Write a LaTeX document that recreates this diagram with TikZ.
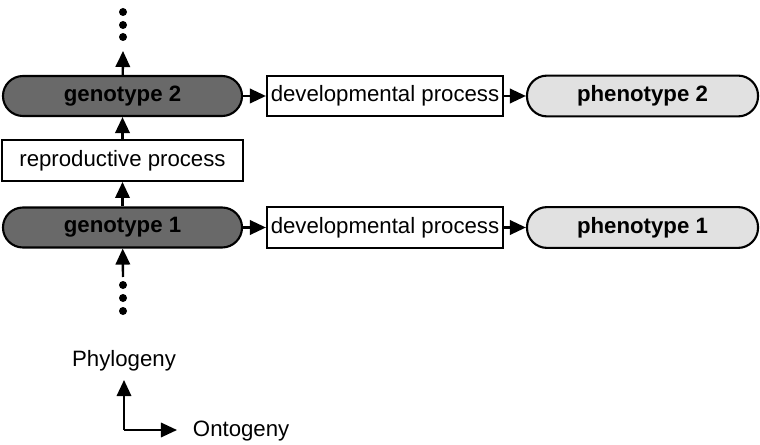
\documentclass[tikz,border=0pt]{standalone}
\usepackage{fontspec}
\setmainfont{Liberation Sans}
\usepackage{xcolor}
\usepackage{tikz}
\usetikzlibrary{positioning,calc,arrows.meta}
\definecolor{GenoGray}{RGB}{105,105,105}
\definecolor{PhenoGray}{RGB}{225,225,225}

\begin{document}
\begin{tikzpicture}[
		x=0.025cm, y=-0.025cm,
		every node/.style={font=\fontsize{15.8}{18}\selectfont},
		procbox/.style={draw, line width=1.5pt, minimum height=1.02cm, inner sep=0pt, align=center},
		genopill/.style={draw, line width=1.5pt, fill=GenoGray, rounded corners=0.5cm, minimum width=5.975cm, minimum height=1cm, inner sep=0pt, font=\fontsize{15.8}{18}\selectfont\bfseries},
		phenopill/.style={draw, line width=1.5pt, fill=PhenoGray, rounded corners=0.5cm, minimum width=5.775cm, minimum height=1.02cm, inner sep=0pt, font=\fontsize{15.8}{18}\selectfont\bfseries},
		conn/.style={line width=1.7pt, -{Triangle[length=0.4cm, width=0.36cm]}},
		dotnode/.style={circle, fill=black, inner sep=0pt, minimum size=0.2cm}
		]
		\useasboundingbox (0,0) rectangle (760,445);
		
		% ===== two generations: genotype -> developmental process -> phenotype =====
		\foreach \g/\y in {1/227.5, 2/96}{
			\node[genopill] (geno\g) at (122.5,\y) {genotype \g};
			\node[procbox, minimum width=5.9cm] (dev\g) at (385,\y) {developmental process};
			\node[phenopill] (pheno\g) at (642.5,\y) {phenotype \g};
			\draw[conn] (geno\g) -- (dev\g);
			\draw[conn] (dev\g) -- (pheno\g);
		}
		
		% ===== reproduction between the generations =====
		\node[procbox, minimum width=6.025cm] (repro) at (122.5,160.5) {reproductive process};
		\draw[conn] (geno1) -- (repro);
		\draw[conn] (repro) -- (geno2);
		
		% ===== dots above and below =====
		\foreach \y [count=\i from 1] in {12,25,37}{
			\node[dotnode] (topdot\i) at (123,\y) {};
		}
		\foreach \y [count=\i from 1] in {285,298,311}{
			\node[dotnode] (botdot\i) at (123,\y) {};
		}
		\coordinate (toptip) at (123,51);
		\coordinate (botstart) at (123,277);
		\draw[conn] (geno2) -- (toptip);
		\draw[conn] (botstart) -- (geno1);
		
		% ===== axes =====
		\coordinate (axo) at (124,430);
		\coordinate (phytip) at (124,380);
		\coordinate (ontotip) at (177,430);
		\draw[conn, line width=1.5pt] (axo) -- (phytip);
		\draw[conn, line width=1.5pt] (axo) -- (ontotip);
		\node (phylab) at (124,361) {Phylogeny};
		\node[anchor=west] (ontolab) at (188,431) {Ontogeny};
		
	\end{tikzpicture}
\end{document}
